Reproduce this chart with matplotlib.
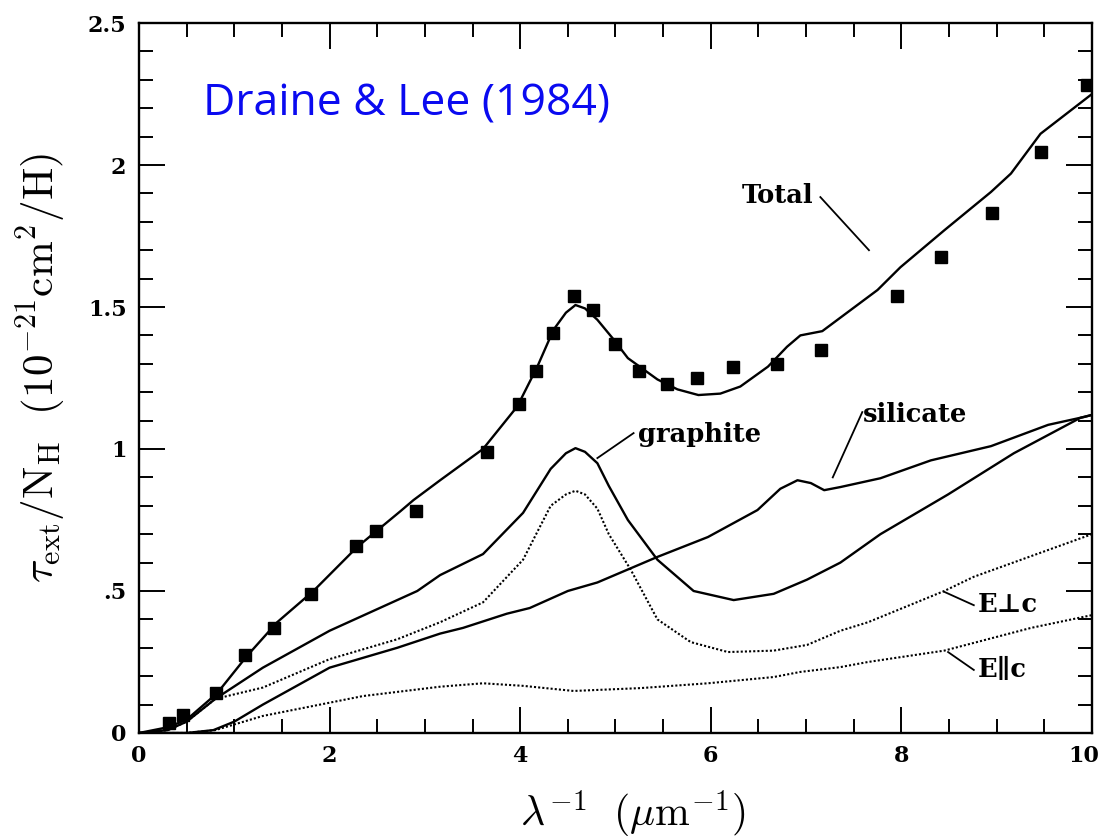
import numpy as np
import matplotlib
matplotlib.use('Agg')
import matplotlib.pyplot as plt
from matplotlib.ticker import MultipleLocator, FixedLocator, FixedFormatter

plt.rcParams['mathtext.fontset'] = 'cm'

# observed extinction (squares)
obs_x = [0.31, 0.46, 0.81, 1.11, 1.42, 1.81, 2.28, 2.49, 2.91, 3.65, 3.99, 4.17, 4.34,
         4.56, 4.76, 4.99, 5.25, 5.54, 5.86, 6.23, 6.69, 7.16, 7.95, 8.42, 8.95, 9.46, 9.95]
obs_y = [0.035, 0.063, 0.14, 0.275, 0.37, 0.49, 0.66, 0.71, 0.78, 0.99, 1.16, 1.275, 1.41,
         1.54, 1.49, 1.37, 1.275, 1.23, 1.25, 1.29, 1.30, 1.35, 1.54, 1.676, 1.83, 2.046, 2.28]

# model curves
total_x = [0, 0.3, 0.5, 0.82, 1.13, 1.45, 1.83, 2.29, 2.74, 2.88, 3.16, 3.61, 3.97, 4.18,
           4.35, 4.48, 4.58, 4.68, 4.81, 4.97, 5.13, 5.44, 5.65, 5.87, 6.1, 6.31, 6.6,
           6.8, 6.94, 7.17, 7.75, 7.99, 8.45, 8.94, 9.15, 9.46, 10.0]
total_y = [0, 0.02, 0.047, 0.14, 0.27, 0.39, 0.50, 0.655, 0.78, 0.82, 0.89, 1.0, 1.15,
           1.29, 1.42, 1.48, 1.507, 1.495, 1.455, 1.39, 1.32, 1.245, 1.21, 1.19, 1.195,
           1.22, 1.29, 1.36, 1.40, 1.415, 1.56, 1.64, 1.77, 1.905, 1.97, 2.11, 2.25]

graph_x = [0, 0.3, 0.5, 0.8, 1.3, 2.0, 2.92, 3.16, 3.61, 4.03, 4.32, 4.48, 4.58, 4.68,
           4.81, 4.93, 5.13, 5.44, 5.82, 6.24, 6.66, 7.01, 7.36, 7.78, 8.49, 9.18, 9.88, 10.0]
graph_y = [0, 0.01, 0.04, 0.12, 0.23, 0.36, 0.50, 0.556, 0.63, 0.775, 0.93, 0.985, 1.003,
           0.99, 0.95, 0.87, 0.75, 0.61, 0.50, 0.468, 0.49, 0.54, 0.60, 0.70, 0.84, 0.985,
           1.11, 1.12]

perp_x = [0, 0.3, 0.5, 0.8, 1.3, 2.0, 2.71, 3.16, 3.61, 4.03, 4.32, 4.48, 4.58, 4.68,
          4.81, 4.93, 5.16, 5.44, 5.79, 6.18, 6.66, 7.01, 7.36, 7.65, 8.45, 8.76, 10.0]
perp_y = [0, 0.01, 0.04, 0.12, 0.16, 0.26, 0.33, 0.39, 0.46, 0.61, 0.80, 0.84, 0.853,
          0.84, 0.79, 0.70, 0.575, 0.40, 0.32, 0.285, 0.29, 0.31, 0.36, 0.39, 0.50, 0.55,
          0.70]

sil_x = [0, 0.5, 0.78, 1.0, 1.3, 2.0, 2.71, 3.16, 3.4, 3.86, 4.1, 4.5, 4.81, 5.44, 5.97,
         6.49, 6.73, 6.91, 7.05, 7.19, 7.36, 7.78, 8.31, 8.94, 9.54, 9.92, 10.0]
sil_y = [0, 0, 0.01, 0.04, 0.10, 0.23, 0.30, 0.35, 0.37, 0.42, 0.44, 0.50, 0.53, 0.62,
         0.69, 0.785, 0.86, 0.89, 0.88, 0.855, 0.866, 0.897, 0.96, 1.01, 1.085, 1.113, 1.12]

par_x = [0, 0.5, 0.8, 1.3, 2.35, 3.16, 3.61, 4.03, 4.56, 5.26, 5.97, 6.66, 6.94, 7.36,
         7.65, 8.45, 9.36, 10.0]
par_y = [0, 0, 0.01, 0.06, 0.13, 0.163, 0.175, 0.166, 0.148, 0.158, 0.175, 0.197, 0.215,
         0.232, 0.25, 0.29, 0.37, 0.415]

xticks = [0, 2, 4, 6, 8, 10]
xtick_labels = ['0', '2', '4', '6', '8', '10']
yticks = [0, 0.5, 1, 1.5, 2, 2.5]
ytick_labels = ['0', '.5', '1', '1.5', '2', '2.5']

fig = plt.figure(figsize=(11.04, 8.4), dpi=100)
ax = fig.add_axes([0.1259, 0.1274, 0.8632, 0.8452])

ax.plot(total_x, total_y, color='black', lw=1.7)
ax.plot(graph_x, graph_y, color='black', lw=1.7)
ax.plot(sil_x, sil_y, color='black', lw=1.7)
ax.plot(perp_x, perp_y, color='black', lw=1.5, ls=(0, (1, 1)))
ax.plot(par_x, par_y, color='black', lw=1.5, ls=(0, (1, 1)))
ax.plot(obs_x, obs_y, 's', color='black', ms=8, mec='black')

# labels and leader lines
lab = dict(family='DejaVu Serif', fontsize=18.5, fontweight='bold', color='black')
ax.text(6.33, 1.894, 'Total', ha='left', va='center', **lab)
ax.plot([7.15, 7.66], [1.887, 1.70], color='black', lw=1.3)
ax.text(5.24, 1.05, 'graphite', ha='left', va='center', **lab)
ax.plot([5.19, 4.81], [1.056, 0.968], color='black', lw=1.3)
ax.text(7.6, 1.12, 'silicate', ha='left', va='center', **lab)
ax.plot([7.59, 7.28], [1.13, 0.90], color='black', lw=1.3)
ax.text(8.8, 0.452, 'E\u22a5c', ha='left', va='center', **lab)
ax.plot([8.76, 8.45], [0.45, 0.497], color='black', lw=1.3)
ax.text(8.8, 0.225, 'E\u2225c', ha='left', va='center', **lab)
ax.plot([8.76, 8.49], [0.222, 0.285], color='black', lw=1.3)

ax.text(0.67, 2.215, 'Draine & Lee (1984)', color='#0a0af0', fontsize=32,
        family='Open Sans', ha='left', va='center')

ax.set_xlim(0, 10)
ax.set_ylim(0, 2.5)
ax.xaxis.set_major_locator(FixedLocator(xticks))
# last label is drawn by hand so it can sit a bit left of its tick
ax.xaxis.set_major_formatter(FixedFormatter(xtick_labels[:-1] + ['']))
ax.xaxis.set_minor_locator(MultipleLocator(0.5))
ax.yaxis.set_major_locator(FixedLocator(yticks))
ax.yaxis.set_major_formatter(FixedFormatter(ytick_labels))
ax.yaxis.set_minor_locator(MultipleLocator(0.1))

ax.tick_params(which='both', direction='in', top=True, right=True, width=1.4,
               colors='black')
ax.tick_params(which='major', length=19, labelsize=16, pad=9)
ax.tick_params(which='minor', length=10)
for s in ax.spines.values():
    s.set_linewidth(1.7)
for t in ax.get_xticklabels() + ax.get_yticklabels():
    t.set_family('DejaVu Serif')
    t.set_fontweight('bold')
ax.annotate(xtick_labels[-1], xy=(xticks[-1], 0), xycoords='data',
            xytext=(-6, -9), textcoords='offset points', ha='center', va='top',
            family='DejaVu Serif', fontweight='bold', fontsize=16)

ax.set_xlabel(r'$\lambda^{-1}\ \ (\mu{\rm m}^{-1})$', fontsize=30)
ax.xaxis.set_label_coords(0.518, -0.078)
ax.set_ylabel(r'$\tau_{\rm ext}/{\rm N_H}\ \ (10^{-21}{\rm cm}^2/{\rm H})$',
              fontsize=31)
ax.yaxis.set_label_coords(-0.075, 0.514)

fig.savefig('out.png', dpi=100)
